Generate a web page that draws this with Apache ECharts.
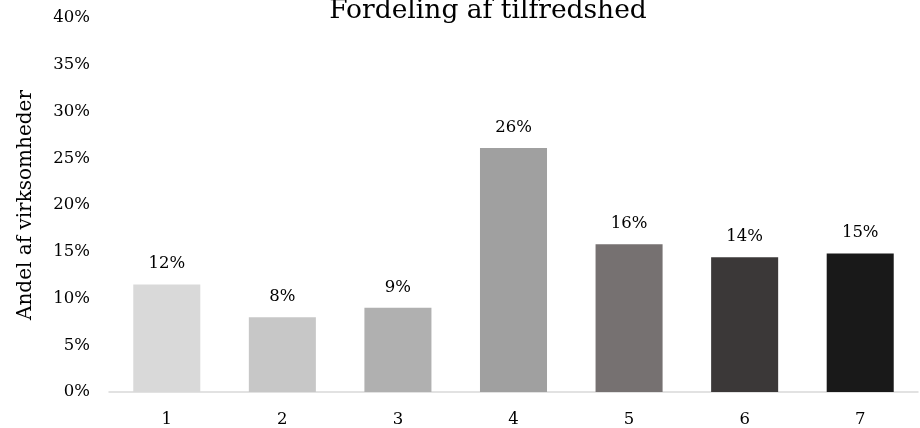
<!DOCTYPE html>
<html>
<head>
<meta charset="utf-8">
<title>Fordeling af tilfredshed</title>
<script src="https://cdn.jsdelivr.net/npm/echarts@6/dist/echarts.min.js"></script>
<style>
  html, body { margin: 0; padding: 0; background: #ffffff; }
  #chart { width: 920px; height: 428px; }
</style>
</head>
<body>
<div id="chart"></div>
<script>
// Satisfaction score (1-7) and share of companies per score, in percent
const categories = ['1', '2', '3', '4', '5', '6', '7'];
const shares = [11.5, 8.0, 9.0, 26.1, 15.8, 14.4, 14.8];
const barColors = ['#d9d9d9', '#c7c7c7', '#b0b0b0', '#a0a0a0', '#767171', '#3b3838', '#191919'];
const yTicks = { min: 0, max: 40, interval: 5 };

const FONT = '"DejaVu Serif", "Liberation Serif", serif';

const chart = echarts.init(document.getElementById('chart'), null, { renderer: 'canvas' });

chart.setOption({
  animation: false,
  backgroundColor: '#ffffff',
  title: {
    text: 'Fordeling af tilfredshed',
    left: 483,
    top: -7,
    textAlign: 'center',
    textStyle: { fontFamily: FONT, fontSize: 26.5, fontWeight: 'normal', color: '#000000' }
  },
  grid: { left: 109, right: 2, top: 18, bottom: 35, containLabel: false },
  xAxis: {
    type: 'category',
    data: categories,
    axisLine: { lineStyle: { color: '#d9d9d9', width: 1.5 } },
    axisTick: { show: false },
    axisLabel: { fontFamily: FONT, fontSize: 16.5, color: '#000000', margin: 19 }
  },
  yAxis: {
    type: 'value',
    min: yTicks.min,
    max: yTicks.max,
    interval: yTicks.interval,
    name: 'Andel af virksomheder',
    nameLocation: 'middle',
    nameGap: 73,
    nameTextStyle: { fontFamily: FONT, fontSize: 20, color: '#000000' },
    axisLine: { show: false },
    axisTick: { show: false },
    splitLine: { show: false },
    axisLabel: {
      fontFamily: FONT, fontSize: 16.5, color: '#000000', margin: 19,
      formatter: v => v + '%'
    }
  },
  series: [{
    type: 'bar',
    barWidth: '58%',
    data: shares.map((v, i) => ({ value: v, itemStyle: { color: barColors[i] } })),
    label: {
      show: true,
      position: 'top',
      distance: 12,
      fontFamily: FONT,
      fontSize: 16.5,
      color: '#000000',
      formatter: p => Math.round(p.value) + '%'
    }
  }]
});
</script>
</body>
</html>
